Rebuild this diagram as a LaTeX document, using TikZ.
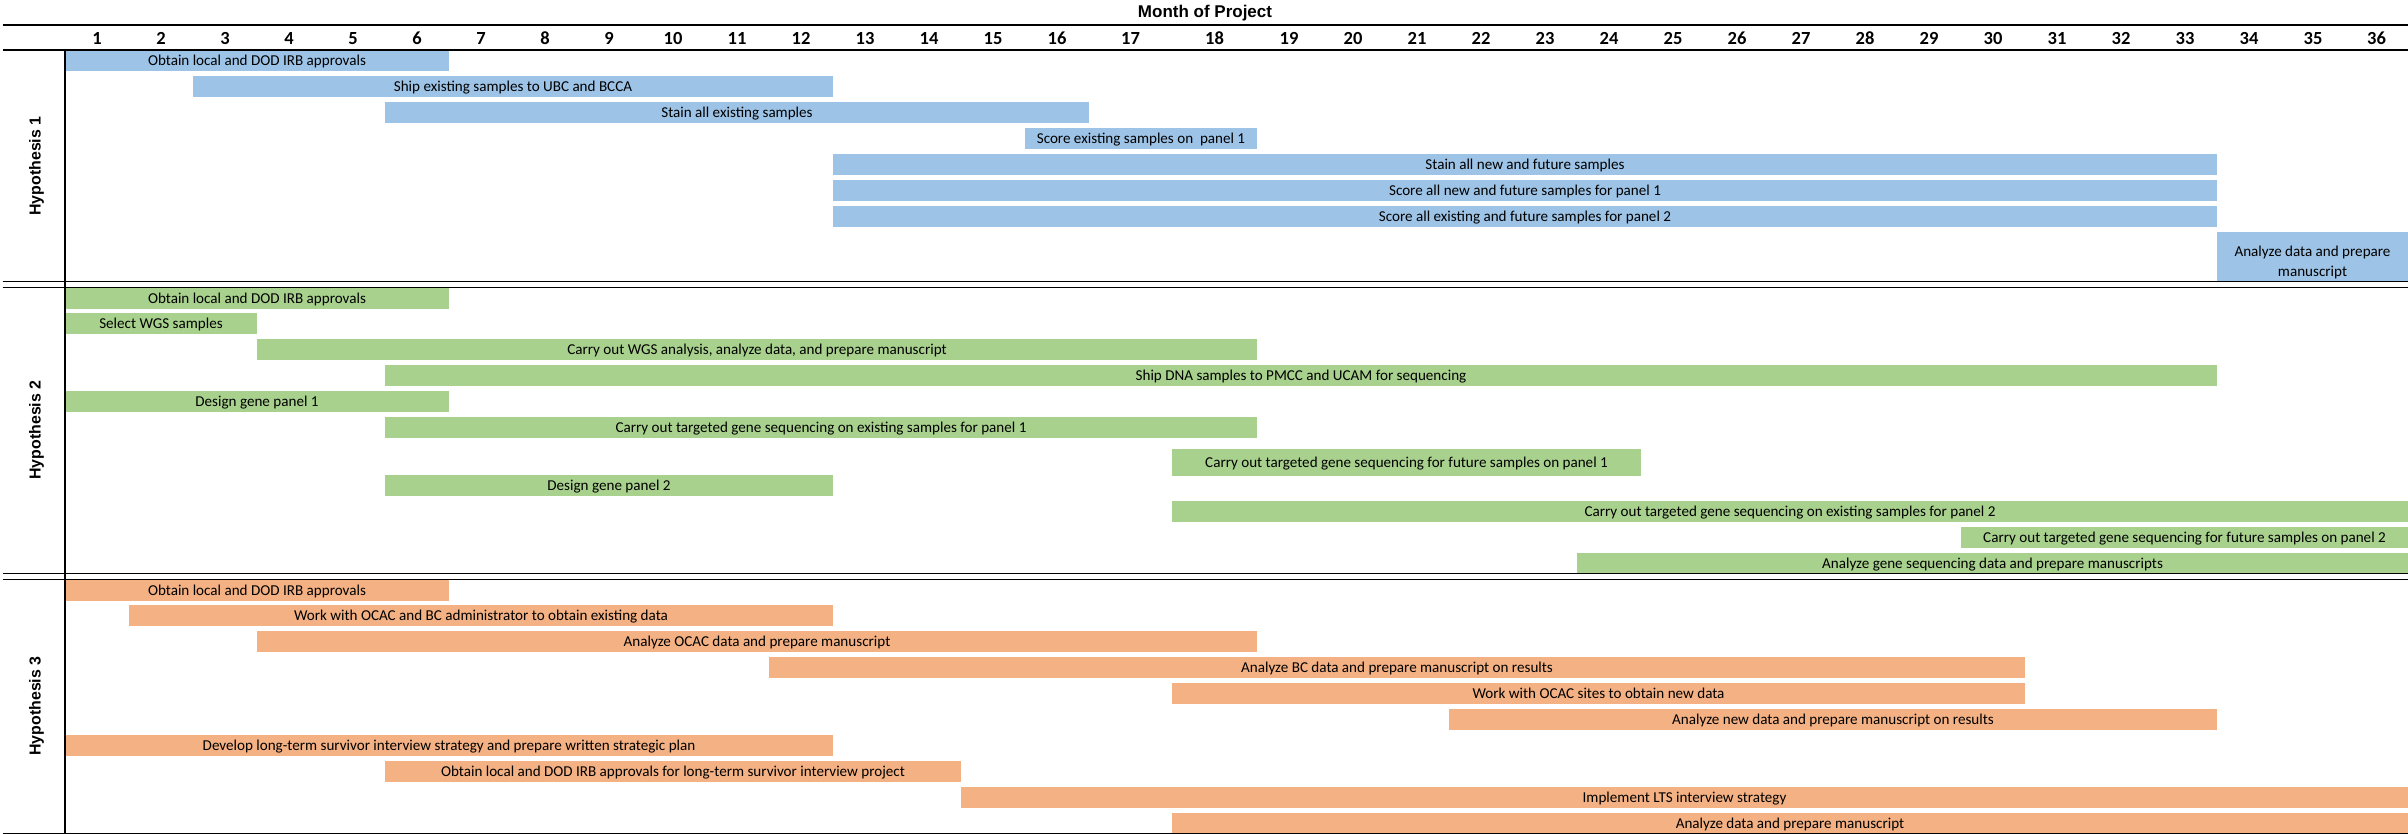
\documentclass[tikz,border=0pt]{standalone}
\usepackage{fontspec}
\setmainfont{Carlito}
\newfontfamily\labelfont{Liberation Sans}
\usepackage{tikz}
\definecolor{blueone}{RGB}{157,195,230}
\definecolor{greenone}{RGB}{169,209,142}
\definecolor{orangeone}{RGB}{244,177,131}

\begin{document}
\begin{tikzpicture}[x=1pt, y=-1pt,
    task/.style={inner sep=0pt, minimum height=20.6pt, text height=9.7pt, text depth=0pt, font=\fontsize{15.1}{20}\selectfont},
    bluetask/.style={task, fill=blueone},
    greentask/.style={task, fill=greenone},
    orangetask/.style={task, fill=orangeone},
    month/.style={inner sep=0pt, text height=11.7pt, text depth=0pt, font=\fontsize{18.5}{20}\selectfont\bfseries},
    hyplabel/.style={inner sep=0pt, rotate=90, anchor=base, font=\labelfont\fontsize{15.9}{18}\selectfont\bfseries},
    rule/.style={line width=1.3pt}]
  \useasboundingbox (0,0) rectangle (2408,834);
  % heading
  \node [inner sep=0pt, font=\labelfont\fontsize{17}{18}\selectfont\bfseries] (title) at (1205,13.5) {Month of Project};
  \node [month] (m1) at (97,39) {1};
  \node [month] (m2) at (161,39) {2};
  \node [month] (m3) at (225,39) {3};
  \node [month] (m4) at (289,39) {4};
  \node [month] (m5) at (353,39) {5};
  \node [month] (m6) at (417,39) {6};
  \node [month] (m7) at (481,39) {7};
  \node [month] (m8) at (545,39) {8};
  \node [month] (m9) at (609,39) {9};
  \node [month] (m10) at (673,39) {10};
  \node [month] (m11) at (737,39) {11};
  \node [month] (m12) at (801,39) {12};
  \node [month] (m13) at (865,39) {13};
  \node [month] (m14) at (929,39) {14};
  \node [month] (m15) at (993,39) {15};
  \node [month] (m16) at (1057,39) {16};
  \node [month] (m17) at (1130.5,39) {17};
  \node [month] (m18) at (1214.5,39) {18};
  \node [month] (m19) at (1289,39) {19};
  \node [month] (m20) at (1353,39) {20};
  \node [month] (m21) at (1417,39) {21};
  \node [month] (m22) at (1481,39) {22};
  \node [month] (m23) at (1545,39) {23};
  \node [month] (m24) at (1609,39) {24};
  \node [month] (m25) at (1673,39) {25};
  \node [month] (m26) at (1737,39) {26};
  \node [month] (m27) at (1801,39) {27};
  \node [month] (m28) at (1865,39) {28};
  \node [month] (m29) at (1929,39) {29};
  \node [month] (m30) at (1993,39) {30};
  \node [month] (m31) at (2057,39) {31};
  \node [month] (m32) at (2121,39) {32};
  \node [month] (m33) at (2185,39) {33};
  \node [month] (m34) at (2249,39) {34};
  \node [month] (m35) at (2313,39) {35};
  \node [month] (m36) at (2376.5,39) {36};
  % hypothesis 1
  \node [bluetask, minimum width=384pt] (h1a) at (257,60.6) {Obtain local and DOD IRB approvals};
  \node [bluetask, minimum width=640pt] (h1b) at (513,86.4) {Ship existing samples to UBC and BCCA};
  \node [bluetask, minimum width=704pt] (h1c) at (737,112.4) {Stain all existing samples};
  \node [bluetask, minimum width=232pt] (h1d) at (1141,138.4) {Score existing samples on\ \ panel 1};
  \node [bluetask, minimum width=1384pt] (h1e) at (1525,164.4) {Stain all new and future samples};
  \node [bluetask, minimum width=1384pt] (h1f) at (1525,190.4) {Score all new and future samples for panel 1};
  \node [bluetask, minimum width=1384pt] (h1g) at (1525,216.4) {Score all existing and future samples for panel 2};
  \node [bluetask, minimum width=191pt, minimum height=49pt, align=center, text height=40.4pt] (h1h) at (2312.5,256.5) {Analyze data and prepare\\manuscript};
  % hypothesis 2
  \node [greentask, minimum width=384pt] (h2a) at (257,298.2) {Obtain local and DOD IRB approvals};
  \node [greentask, minimum width=192pt] (h2b) at (161,323.6) {Select WGS samples};
  \node [greentask, minimum width=1000pt] (h2c) at (757,349.5) {Carry out WGS analysis, analyze data, and prepare manuscript};
  \node [greentask, minimum width=1832pt] (h2d) at (1301,375.5) {Ship DNA samples to PMCC and UCAM for sequencing};
  \node [greentask, minimum width=384pt] (h2e) at (257,401.5) {Design gene panel 1};
  \node [greentask, minimum width=872pt] (h2f) at (821,427.5) {Carry out targeted gene sequencing on existing samples for panel 1};
  \node [greentask, minimum width=469pt, minimum height=27pt] (h2g) at (1406.5,462.5) {Carry out targeted gene sequencing for future samples on panel 1};
  \node [greentask, minimum width=448pt] (h2h) at (609,485.5) {Design gene panel 2};
  \node [greentask, minimum width=1236pt] (h2i) at (1790,511.5) {Carry out targeted gene sequencing on existing samples for panel 2};
  \node [greentask, minimum width=447pt] (h2j) at (2184.5,537.5) {Carry out targeted gene sequencing for future samples on panel 2};
  \node [greentask, minimum width=831pt] (h2k) at (1992.5,563.3) {Analyze gene sequencing data and prepare manuscripts};
  % hypothesis 3
  \node [orangetask, minimum width=384pt] (h3a) at (257,590.2) {Obtain local and DOD IRB approvals};
  \node [orangetask, minimum width=704pt] (h3b) at (481,615.5) {Work with OCAC and BC administrator to obtain existing data};
  \node [orangetask, minimum width=1000pt] (h3c) at (757,641.3) {Analyze OCAC data and prepare manuscript};
  \node [orangetask, minimum width=1256pt] (h3d) at (1397,667.3) {Analyze BC data and prepare manuscript on results};
  \node [orangetask, minimum width=853pt] (h3e) at (1598.5,693.3) {Work with OCAC sites to obtain new data};
  \node [orangetask, minimum width=768pt] (h3f) at (1833,719.3) {Analyze new data and prepare manuscript on results};
  \node [orangetask, minimum width=768pt] (h3g) at (449,745.3) {Develop long-term survivor interview strategy and prepare written strategic plan};
  \node [orangetask, minimum width=576pt] (h3h) at (673,771.3) {Obtain local and DOD IRB approvals for long-term survivor interview project};
  \node [orangetask, minimum width=1447pt] (h3i) at (1684.5,797.3) {Implement LTS interview strategy};
  \node [orangetask, minimum width=1236pt] (h3j) at (1790,823.3) {Analyze data and prepare manuscript};
  % side labels
  \node [hyplabel] (hyp1) at (40.7,166) {Hypothesis 1};
  \node [hyplabel] (hyp2) at (40.7,430) {Hypothesis 2};
  \node [hyplabel] (hyp3) at (40.7,706) {Hypothesis 3};
  % rules
  \draw [rule] (2.5,25) -- (2408,25);
  \draw [rule] (2.5,50) -- (2408,50);
  \draw [rule] (2.5,281.5) -- (2408,281.5);
  \draw [rule] (2.5,287.3) -- (2408,287.3);
  \draw [rule] (2.5,573.3) -- (2408,573.3);
  \draw [rule] (2.5,579.3) -- (2408,579.3);
  \draw [rule] (2.5,833.3) -- (2408,833.3);
  \draw [rule] (65,50) -- (65,834);
\end{tikzpicture}
\end{document}
